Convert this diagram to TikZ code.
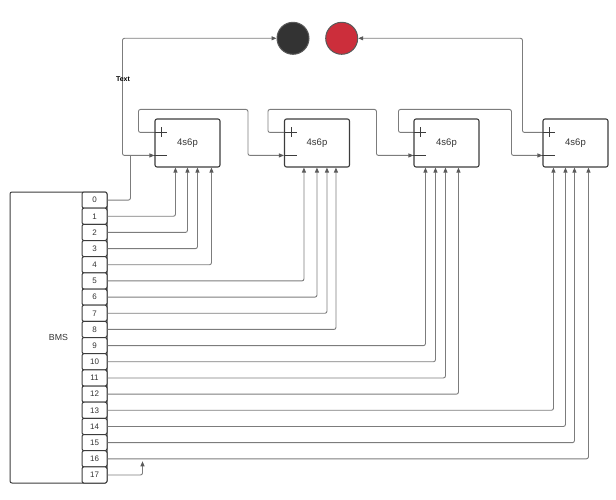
\documentclass[tikz,border=0pt]{standalone}
\usepackage{fontspec}
\setmainfont{Liberation Sans}
\usetikzlibrary{calc,arrows.meta}
\definecolor{wiregray}{HTML}{7C7C7C}
\definecolor{tipgray}{HTML}{5A5A5A}
\definecolor{boxgray}{HTML}{3C3C3C}
\definecolor{leaddark}{HTML}{333333}
\definecolor{leadred}{HTML}{CC2E3B}
\tikzset{
  pack/.style={draw=boxgray, line width=1.1pt, rounded corners=2pt, minimum width=65pt, minimum height=48pt, inner sep=0pt, text=black!80, font=\fontsize{9.5}{11}\selectfont},
  port/.style={draw=boxgray, line width=1pt, rounded corners=2pt, fill=white, minimum width=25pt, minimum height=16.17pt, inner sep=0pt, text=black!80, font=\fontsize{8}{9}\selectfont},
  lead/.style={circle, draw=black!65, line width=1pt, minimum size=32pt, inner sep=0pt},
  wire/.style={draw=wiregray, line width=0.9pt, rounded corners=2pt},
  tip/.style={-{Triangle[length=5pt,width=4pt,color=tipgray]}},
  tips/.style={{Triangle[length=5pt,width=4pt,color=tipgray]}-{Triangle[length=5pt,width=4pt,color=tipgray]}},
  tag/.style={inner sep=0pt, font=\bfseries\fontsize{7}{8}\selectfont}
}
\begin{document}
\begin{tikzpicture}[x=1pt,y=-1pt]
    \path[use as bounding box] (0,0) rectangle (616,500);
    % leads
    \node[lead, fill=leaddark] (dark) at (293,38.3) {};
    \node[lead, fill=leadred] (red) at (341.7,38.3) {};
    % battery packs
    \node[pack] (p1) at (187.5,143) {4s6p};
    \node[pack] (p2) at (317,143) {4s6p};
    \node[pack] (p3) at (446.5,143) {4s6p};
    \node[pack] (p4) at (575.5,143) {4s6p};
    \foreach \i in {1,...,4} {
        \coordinate (p\i-pos) at ($(p\i.north west)+(0,14)$);
        \coordinate (p\i-neg) at ($(p\i.north west)+(0,37)$);
        \draw[boxgray, line width=0.9pt] (p\i-pos) -- ++(13,0) ($(p\i-pos)+(7,-5)$) -- ++(0,10) (p\i-neg) -- ++(13,0);
    }
    % BMS with its pins
    \node[draw=boxgray, line width=1pt, rounded corners=2pt, minimum width=97pt, minimum height=291pt, text=black!80, font=\fontsize{8.8}{10}\selectfont] (bms) at (58.5,337.5) {BMS};
    \foreach \i in {0,...,17}
        \node[port] (b\i) at (94.5,{192+16.17*(\i+0.5)}) {\i};
    % series links
    \foreach \i/\j/\dx/\mx in {1/2/16/36, 2/3/16/37, 3/4/15/31}
        \draw[wire,tip] (p\i-pos) -- ++(-\dx,0) |- ($(p\j-neg)+(-\mx,-46)$) |- (p\j-neg);
    \draw[wire,tip] (p4-pos) -- ++(-20,0) |- (red.east);
    \draw[wire,tips] (dark.west) -| ($(p1-neg)+(-32,0)$) -- (p1-neg);
    \node[tag] (txt) at (123,79) {Text};
    % balance leads
    \draw[wire] (b0.east) -| ($(p1-neg)+(-24,0)$);
    \foreach \i/\k/\dx in {1/1/21, 2/1/33, 3/1/43, 4/1/57, 5/2/20, 6/2/33, 7/2/43, 8/2/52, 9/3/12, 10/3/22, 11/3/32, 12/3/45, 13/4/11, 14/4/23, 15/4/32, 16/4/46}
        \draw[wire,tip] (b\i.east) -| ($(p\k.south west)+(\dx,0)$);
    \draw[wire,tip] (b17.east) -| ($(b16.east)+(35,2.5)$);
\end{tikzpicture}
\end{document}
